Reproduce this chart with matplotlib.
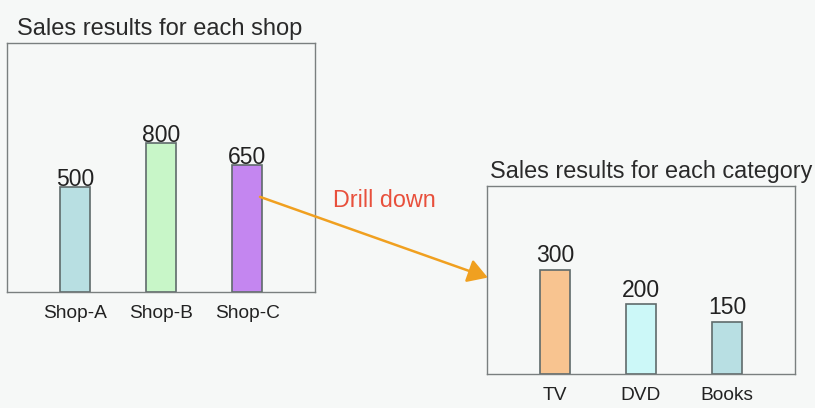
import numpy as np
import matplotlib
matplotlib.use("Agg")
import matplotlib.pyplot as plt

# données
shops = ["Shop-A", "Shop-B", "Shop-C"]
shop_sales = [500, 800, 650]
shop_colors = ["#b8dfe2", "#c8f6c8", "#c486f0"]

categories = ["TV", "DVD", "Books"]
category_sales = [300, 200, 150]
category_colors = ["#f8c490", "#ccf8f8", "#b8dfe3"]

plt.rcParams['font.family'] = ['Liberation Sans', 'DejaVu Sans']

bg = "#f6f8f7"
fig = plt.figure(figsize=(8.15, 4.08), dpi=100, facecolor=bg)

ax1 = fig.add_axes([0.0086, 0.2843, 0.378, 0.610], facecolor=bg)
ax2 = fig.add_axes([0.5975, 0.0833, 0.378, 0.4608], facecolor=bg)


def panneau(ax, labels, values, colors, ylim, gap):
    x = np.arange(len(labels))
    base = ylim[0]
    vals = np.array(values) - base
    ax.bar(x, vals, bottom=base, width=0.35, color=colors,
           edgecolor="#5f6b6b", linewidth=1.2, zorder=2)
    for xi, v in zip(x, values):
        ax.annotate(str(v), (xi, v), xytext=(0, gap), textcoords="offset points",
                    ha="center", va="bottom", fontsize=16.5, color="#222222")
    ax.set_xlim(-0.79, 2.79)
    ax.set_ylim(*ylim)
    ax.set_xticks(x)
    ax.set_xticklabels(labels, fontsize=13.8, color="#222222")
    ax.tick_params(axis="x", length=0, pad=9)
    ax.set_yticks([])
    for s in ax.spines.values():
        s.set_color("#7a7f7f")
        s.set_linewidth(1.0)


panneau(ax1, shops, shop_sales, shop_colors, (-215, 1480), -3)
panneau(ax2, categories, category_sales, category_colors, (0, 540), 2)

fig.text(17 / 815, 1 - 35 / 408, "Sales results for each shop", fontsize=17,
         va="baseline", ha="left", color="#2a2a2a")
fig.text(490 / 815, 1 - 178 / 408, "Sales results for each category", fontsize=16.8,
         va="baseline", ha="left", color="#2a2a2a")

# flèche drill down
ax2.annotate("", xy=(-0.78, 277), xycoords=ax2.transData,
             xytext=(2.15, 433), textcoords=ax1.transData,
             arrowprops=dict(arrowstyle="-|>,head_length=0.5,head_width=0.3",
                             color="#f0a020", lw=1.8,
                             mutation_scale=24, shrinkA=0, shrinkB=0))
fig.text(333 / 815, 1 - 207 / 408, "Drill down", fontsize=16.8, color="#e8503c",
         va="baseline", ha="left")

fig.savefig("out.png", dpi=100, facecolor=bg)
